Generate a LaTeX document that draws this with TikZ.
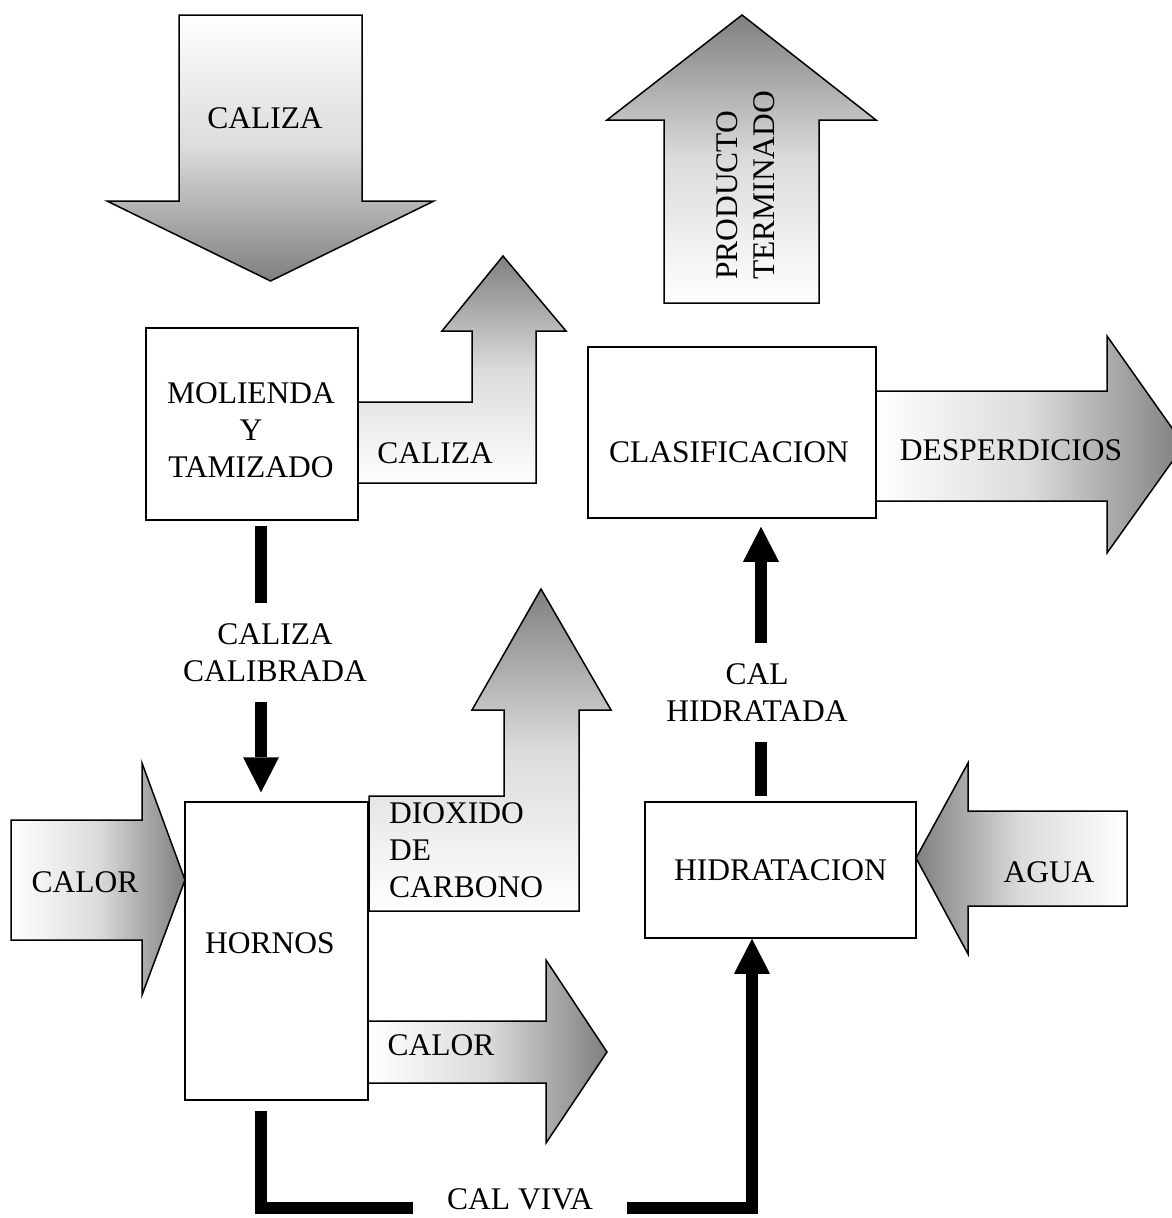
\documentclass[tikz,border=0pt]{standalone}
\usepackage{fontspec}
\setmainfont{Liberation Serif}
\usetikzlibrary{arrows.meta}
\begin{document}
\begin{tikzpicture}[x=1pt,y=-1pt,
  txt/.style={font=\fontsize{31.5}{37}\selectfont, inner sep=0pt, align=center},
  box/.style={draw, line width=1.5pt, fill=white, inner sep=0pt, font=\fontsize{31.5}{37}\selectfont, align=center},
  shp/.style={draw, line width=1.5pt, line join=miter},
  vshade/.style={top color=#1, bottom color=white, middle color=gray!28},
  vshadeb/.style={top color=white, bottom color=gray, middle color=gray!28},
  hshade/.style={left color=white, right color=gray, middle color=gray!28},
  hshadeb/.style={left color=gray, right color=white, middle color=gray!28},
  plainbar/.style={line width=12pt, line join=miter},
  bar/.style={line width=12pt, line join=miter, -{Triangle[width=36pt,length=35pt,line width=0pt]}},
  lab/.style={txt, minimum height=99pt}
]
\fill[white] (0,0) rectangle (1172,1218);
\useasboundingbox (0,0) rectangle (1172,1218);

% gradient arrows
\shade[shp, vshadeb] (179,15) -- (362,15) -- (362,201) -- (434,201) -- (270.5,281) -- (107,201) -- (179,201) -- cycle;
\shade[shp, vshade=gray] (358,402) -- (472,402) -- (472,331) -- (442,331) -- (503,256) -- (566,331) -- (536,331) -- (536,483) -- (358,483) -- cycle;
\shade[shp, vshade=gray] (664,303) -- (664,120) -- (607,120) -- (742,15) -- (876,120) -- (819,120) -- (819,303) -- cycle;
\shade[shp, hshade] (875,391) -- (1107,391) -- (1107,336) -- (1184,445) -- (1107,553) -- (1107,501) -- (875,501) -- cycle;
\shade[shp, hshade] (11,820) -- (142,820) -- (142,763) -- (185,880) -- (142,995) -- (142,940) -- (11,940) -- cycle;
\shade[shp, vshade=gray] (369,796) -- (504,796) -- (504,710) -- (472,710) -- (541,589) -- (611,710) -- (579,710) -- (579,911) -- (369,911) -- cycle;
\shade[shp, hshade] (367,1021) -- (546,1021) -- (546,960) -- (607,1052) -- (546,1143) -- (546,1083) -- (367,1083) -- cycle;
\shade[shp, hshadeb] (1127,811) -- (968,811) -- (968,763) -- (916,858) -- (968,954) -- (968,906) -- (1127,906) -- cycle;

% texts on arrows
\node[txt] (t1) at (265,118) {CALIZA};
\node[txt] (t2) at (435,453) {CALIZA};
\node[txt, rotate=90, anchor=west, align=left] (t3) at (746,280) {PRODUCTO\\TERMINADO};
\node[txt] (t4) at (1011,450) {DESPERDICIOS};
\node[txt] (t5) at (85,882) {CALOR};
\node[txt, anchor=west, align=left] (t6) at (389,850) {DIOXIDO\\DE\\CARBONO};
\node[txt] (t7) at (441,1045) {CALOR};
\node[txt] (t8) at (1049,872) {AGUA};

% process boxes
\node[box, minimum width=212pt, minimum height=192pt] (molienda) at (252,424) {};
\node[txt] (moliendat) at (251,430) {MOLIENDA\\Y\\TAMIZADO};
\node[box, minimum width=288pt, minimum height=171pt] (clasif) at (732,432.5) {};
\node[txt] (clasift) at (729,452) {CLASIFICACION};
\node[box, minimum width=183pt, minimum height=298pt] (hornos) at (276.5,951) {};
\node[txt] (hornost) at (270,943) {HORNOS};
\node[box, minimum width=271pt, minimum height=136pt] (hidrat) at (780.5,870) {HIDRATACION};

% connector labels
\node[lab] (cc) at (275,652.5) {CALIZA\\CALIBRADA};
\node[lab] (ch) at (757,692.5) {CAL\\HIDRATADA};
\node[txt] (cv) at (520,1199) {CAL VIVA};
\path (cv.center) ++(-107,9) coordinate (cvl) ++(214,0) coordinate (cvr);

\coordinate (xl) at (261,0);
\coordinate (xr) at (761,0);
\coordinate (xv) at (752,0);

% connectors
\draw[plainbar, shorten <=5pt] (molienda.south -| xl) -- (cc.north -| xl);
\draw[bar, shorten >=9pt] (cc.south -| xl) -- (hornos.north -| xl);
\draw[plainbar, shorten <=5pt] (hidrat.north -| xr) -- (ch.south -| xr);
\draw[bar, shorten >=8pt] (ch.north -| xr) -- (clasif.south -| xr);
\draw[plainbar, shorten <=10pt] (hornos.south -| xl) |- (cvl);
\draw[bar] (cvr) -| (hidrat.south -| xv);
\end{tikzpicture}
\end{document}
